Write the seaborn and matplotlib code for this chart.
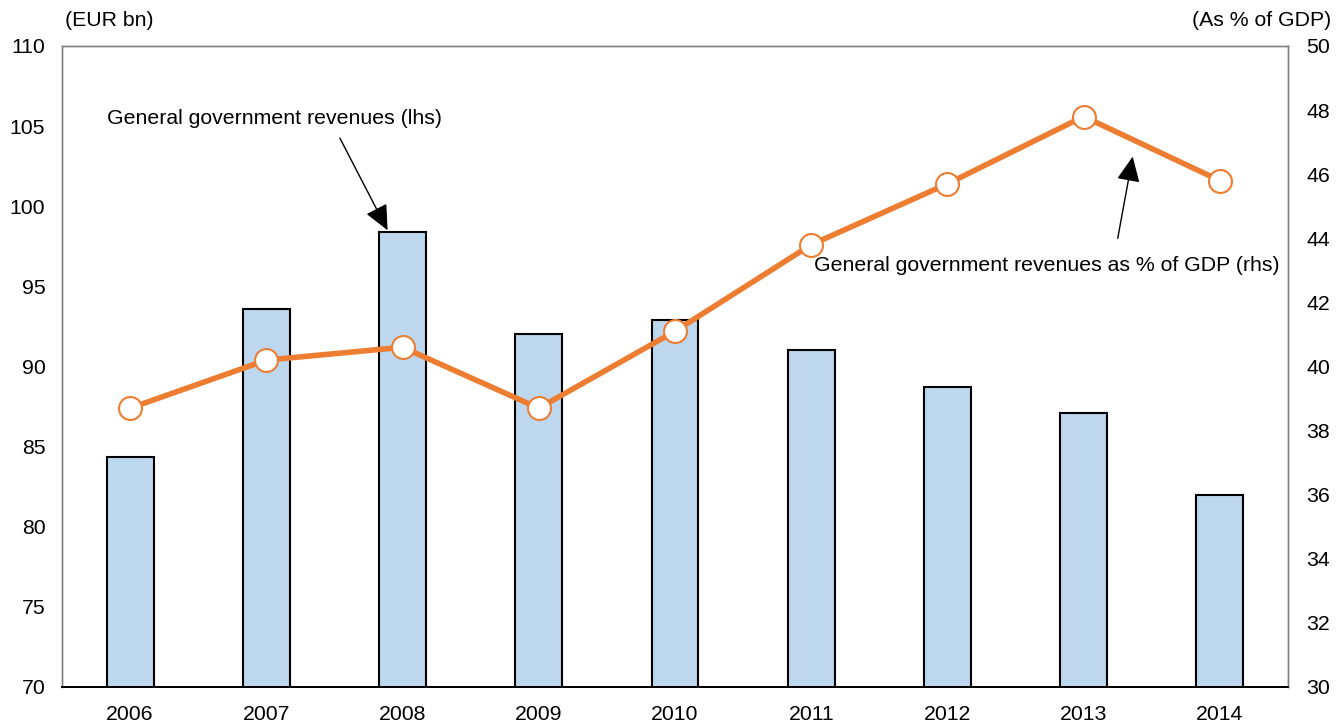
import matplotlib

matplotlib.use("Agg")
import matplotlib.pyplot as plt
import numpy as np
import pandas as pd
import seaborn as sns

YEARS = ["2006", "2007", "2008", "2009", "2010", "2011", "2012", "2013", "2014"]
REVENUES_EUR_BN = [84.35, 93.6, 98.4, 92.0, 92.9, 91.0, 88.7, 87.1, 82.0]
REVENUES_PCT_GDP = [38.7, 40.2, 40.6, 38.7, 41.1, 43.8, 45.7, 47.8, 45.8]

LEFT_TICKS = [70, 75, 80, 85, 90, 95, 100, 105, 110]
RIGHT_TICKS = [30, 32, 34, 36, 38, 40, 42, 44, 46, 48, 50]

BAR_COLOR = "#bdd7ee"
LINE_COLOR = "#ed7d31"
FS = 15.3

sns.set_theme(style="white")
plt.rcParams["font.family"] = ["Liberation Sans", "DejaVu Sans"]
plt.rcParams["text.color"] = "black"

df = pd.DataFrame({"year": YEARS, "eur": REVENUES_EUR_BN, "pct": REVENUES_PCT_GDP})

fig = plt.figure(figsize=(13.42, 7.22), dpi=100)
ax = fig.add_axes([62 / 1342, 35 / 722, 1226 / 1342, 641 / 722])

sns.barplot(data=df, x="year", y="eur", color=BAR_COLOR, width=0.345,
            edgecolor="black", linewidth=1.5, saturation=1, ax=ax)
ax.set_ylim(70, 110)
ax.set_xlim(-0.5, len(YEARS) - 0.5)
ax.set_yticks(LEFT_TICKS)
ax.set_xlabel("")
ax.set_ylabel("")

ax2 = ax.twinx()
x_pos = np.arange(len(YEARS))
sns.lineplot(x=x_pos, y=df["pct"], color=LINE_COLOR, linewidth=4, marker="o",
             markersize=16.5, markerfacecolor="white", markeredgecolor=LINE_COLOR,
             markeredgewidth=1.5, ax=ax2, zorder=5)
ax2.set_ylim(30, 50)
ax2.set_yticks(RIGHT_TICKS)
ax2.set_ylabel("")

for a in (ax, ax2):
    a.tick_params(axis="both", length=0, labelsize=FS, colors="black")
    for side in ("left", "right", "top"):
        a.spines[side].set_color("#808080")
        a.spines[side].set_linewidth(1)
    a.spines["bottom"].set_color("black")
    a.spines["bottom"].set_linewidth(1.3)
ax.tick_params(axis="y", pad=12)
ax.tick_params(axis="x", pad=13)
ax2.tick_params(axis="y", pad=13)

fig.text(65 / 1342, 1 - 20 / 722, "(EUR bn)", fontsize=FS, ha="left", va="center")
fig.text(1331 / 1342, 1 - 20 / 722, "(As % of GDP)", fontsize=FS, ha="right", va="center")

arrow = dict(arrowstyle="-|>,head_length=1.3,head_width=0.6", color="black",
             lw=1, shrinkA=0, shrinkB=0)
ax.annotate("", xy=(1.89, 98.5), xytext=(1.54, 104.25), arrowprops=arrow)
ax.text(-0.17, 105.5, "General government revenues (lhs)", fontsize=FS,
        ha="left", va="center")
ax.annotate("", xy=(7.36, 103.1), xytext=(7.25, 98.0), arrowprops=arrow, zorder=6)
ax.text(8.44, 96.3, "General government revenues as % of GDP (rhs)", fontsize=FS,
        ha="right", va="center", zorder=6)

fig.savefig("out.png", dpi=100)
